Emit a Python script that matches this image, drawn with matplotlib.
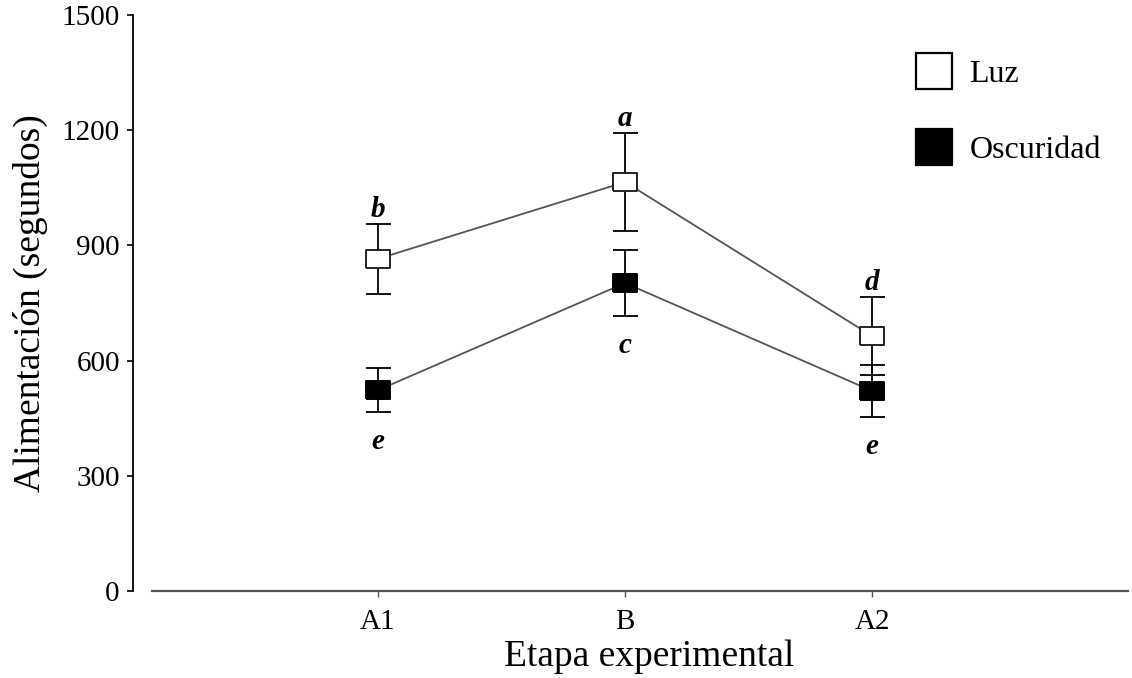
import matplotlib
matplotlib.use("Agg")
import matplotlib.pyplot as plt
from matplotlib.lines import Line2D
import numpy as np

# ---- data ----
stages = ["A1", "B", "A2"]
luz_mean = [865, 1065, 664]
luz_err = [92, 128, 102]
osc_mean = [523, 802, 521]
osc_err = [58, 86, 68]
luz_letters = ["b", "a", "d"]
osc_letters = ["e", "c", "e"]
yticks = [0, 300, 600, 900, 1200, 1500]

plt.rcParams['font.family'] = ['Liberation Serif', 'DejaVu Serif']

W, H = 1132, 678
fig = plt.figure(figsize=(W / 100, H / 100), dpi=100)
ax = fig.add_axes([152 / W, 1 - 591 / H, (1128 - 152) / W, (591 - 15) / H])

x = np.arange(len(stages))
rect = [(-0.5, -0.41), (0.5, -0.41), (0.5, 0.41), (-0.5, 0.41), (-0.5, -0.41)]

# error bars
ax.errorbar(x, luz_mean, yerr=luz_err, fmt='none', ecolor='black',
            elinewidth=1.3, capsize=9, capthick=1.3, zorder=2)
ax.errorbar(x, osc_mean, yerr=osc_err, fmt='none', ecolor='black',
            elinewidth=1.3, capsize=9, capthick=1.3, zorder=2)
# connecting lines
ax.plot(x, luz_mean, color='#555555', lw=1.3, zorder=3)
ax.plot(x, osc_mean, color='#555555', lw=1.3, zorder=3)
# markers
ax.plot(x, luz_mean, ls='none', marker=rect, ms=16.6, mfc='white',
        mec='#222222', mew=1.4, zorder=4)
ax.plot(x, osc_mean, ls='none', marker=rect, ms=16.6, mfc='black',
        mec='black', mew=1.4, zorder=4)

# significance letters
for xi, m, e, t in zip(x, luz_mean, luz_err, luz_letters):
    ax.annotate(t, (xi, m + e), xytext=(0, 5), textcoords='offset points',
                ha='center', va='baseline', fontsize=21, fontweight='bold',
                fontstyle='italic')
for xi, m, e, t in zip(x, osc_mean, osc_err, osc_letters):
    ax.annotate(t, (xi, m - e), xytext=(0, -21), textcoords='offset points',
                ha='center', va='center', fontsize=21, fontweight='bold',
                fontstyle='italic')

# axes styling
ax.set_xlim(-0.915, 3.036)
ax.set_ylim(0, 1500)
ax.set_xticks(x)
ax.set_xticklabels(stages)
ax.set_yticks(yticks)
for s in ['top', 'right']:
    ax.spines[s].set_visible(False)
ax.spines['left'].set_position(('outward', 13.7))
ax.spines['left'].set_linewidth(1.3)
ax.spines['bottom'].set_color('#555555')
ax.spines['bottom'].set_linewidth(1.6)
ax.tick_params(axis='y', direction='out', length=4.5, width=1.2, pad=5,
               labelsize=21, colors='black')
ax.tick_params(axis='x', direction='out', length=4, width=1.0, pad=9,
               labelsize=21, color='#555555', labelcolor='black')

ax.set_ylabel("Alimentación (segundos)", fontsize=27)
ax.yaxis.label.set_va('center')
ax.yaxis.set_label_coords((30 - 152) / 976, 0.5)
ax.set_xlabel("Etapa experimental", fontsize=27)
ax.xaxis.label.set_va('center')
ax.xaxis.set_label_coords(0.509, -0.115)

# legend
handles = [
    Line2D([], [], ls='none', marker='s', ms=25.5, mfc='white', mec='black', mew=1.6),
    Line2D([], [], ls='none', marker='s', ms=25.5, mfc='black', mec='black', mew=1.6),
]
fig.legend(handles, ["Luz", "Oscuridad"], loc='upper left',
           bbox_to_anchor=(916 / W, 1 - 60 / H), bbox_transform=fig.transFigure,
           frameon=False, fontsize=23, handlelength=1.15, handletextpad=0.52,
           labelspacing=1.45, borderpad=0, borderaxespad=0)

fig.savefig("out.png", dpi=100)
